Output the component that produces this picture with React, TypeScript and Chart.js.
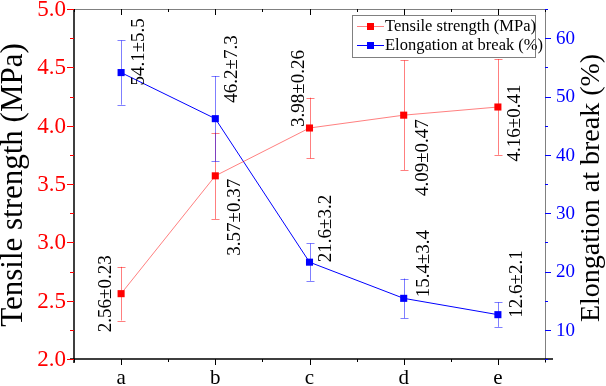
import React, { useEffect, useRef } from "react";
import { Chart, registerables } from "chart.js";

Chart.register(...registerables);

const categories = ["a", "b", "c", "d", "e"];
const tensile = [2.56, 3.57, 3.98, 4.09, 4.16];
const tensileErr = [0.23, 0.37, 0.26, 0.47, 0.41];
const elongation = [54.1, 46.2, 21.6, 15.4, 12.6];
const elongationErr = [5.5, 7.3, 3.2, 3.4, 2.1];
const leftTickValues = [2.0, 2.5, 3.0, 3.5, 4.0, 4.5, 5.0];
const rightTickValues = [10, 20, 30, 40, 50, 60];

const FONT = "'Liberation Serif', 'Times New Roman', serif";

// label placement (style only): offsets from the point, and rotated alignment
const redLabelPlace = [
  { dx: -15, dy: 0, align: "center" },
  { dx: 20, dy: 3, align: "right" },
  { dx: -10, dy: -1, align: "left" },
  { dx: 19, dy: 4, align: "right" },
  { dx: 17, dy: 16, align: "center" },
];
const blueLabelPlace = [
  { dx: 18, dy: 13, align: "left" },
  { dx: 17, dy: -16, align: "left" },
  { dx: 17, dy: 0, align: "left" },
  { dx: 20, dy: -1, align: "left" },
  { dx: 19, dy: 3, align: "left" },
];

const decorPlugin = {
  id: "decor",
  beforeDatasetsDraw(chart: any) {
    const ctx = chart.ctx;
    const xs = chart.scales.x;
    const drawErr = (vals: number[], errs: number[], scale: any, color: string) => {
      ctx.save();
      ctx.strokeStyle = color;
      ctx.lineWidth = 1;
      vals.forEach((v, i) => {
        const x = Math.round(xs.getPixelForValue(i + 1)) + 0.5;
        const yt = scale.getPixelForValue(v + errs[i]);
        const yb = scale.getPixelForValue(v - errs[i]);
        ctx.beginPath();
        ctx.moveTo(x, yt);
        ctx.lineTo(x, yb);
        ctx.moveTo(x - 4, Math.round(yt) + 0.5);
        ctx.lineTo(x + 4, Math.round(yt) + 0.5);
        ctx.moveTo(x - 4, Math.round(yb) + 0.5);
        ctx.lineTo(x + 4, Math.round(yb) + 0.5);
        ctx.stroke();
      });
      ctx.restore();
    };
    drawErr(tensile, tensileErr, chart.scales.y, "rgba(255,0,0,0.5)");
    drawErr(elongation, elongationErr, chart.scales.y1, "rgba(0,0,255,0.5)");
  },
  afterDraw(chart: any) {
    const ctx = chart.ctx;
    const { left, right, top, bottom } = chart.chartArea;
    const xs = chart.scales.x;
    const ys = chart.scales.y;
    const y1 = chart.scales.y1;
    ctx.save();

    // frame
    ctx.lineWidth = 1;
    ctx.strokeStyle = "#808080";
    ctx.beginPath();
    ctx.moveTo(left, top + 0.5);
    ctx.lineTo(right, top + 0.5);
    ctx.moveTo(right + 0.5, top);
    ctx.lineTo(right + 0.5, bottom + 4);
    ctx.stroke();

    ctx.strokeStyle = "#000";
    ctx.lineWidth = 1.5;
    ctx.beginPath();
    ctx.moveTo(left, top);
    ctx.lineTo(left, bottom + 4);
    ctx.moveTo(left - 4, bottom);
    ctx.lineTo(right + 8, bottom);
    ctx.stroke();

    // x ticks (bottom outward, top inward)
    ctx.lineWidth = 1;
    ctx.strokeStyle = "#000";
    ctx.beginPath();
    for (let k = 1; k <= 11; k++) {
      const v = 0.5 * k;
      const major = Number.isInteger(v);
      const x = Math.round(xs.getPixelForValue(v)) + 0.5;
      const len = major ? 6 : 3;
      ctx.moveTo(x, bottom);
      ctx.lineTo(x, bottom + len);
      ctx.moveTo(x, top);
      ctx.lineTo(x, top + len);
    }
    ctx.stroke();

    // left ticks
    ctx.strokeStyle = "#ff0000";
    ctx.beginPath();
    for (let k = 0; k <= 12; k++) {
      const v = 2 + 0.25 * k;
      const major = k % 2 === 0;
      const y = Math.round(ys.getPixelForValue(v)) + 0.5;
      ctx.moveTo(left, y);
      ctx.lineTo(left - (major ? 7 : 4), y);
    }
    ctx.stroke();

    // right ticks
    ctx.strokeStyle = "#0000ff";
    ctx.beginPath();
    for (let v = 5; v <= 65; v += 5) {
      const major = v % 10 === 0;
      const y = Math.round(y1.getPixelForValue(v)) + 0.5;
      ctx.moveTo(right, y);
      ctx.lineTo(right + (major ? 6 : 3), y);
    }
    ctx.stroke();

    // tick labels
    ctx.fillStyle = "#ff0000";
    ctx.font = `23px ${FONT}`;
    ctx.textAlign = "right";
    ctx.textBaseline = "middle";
    leftTickValues.forEach((v) => {
      ctx.fillText(v.toFixed(1), 66, ys.getPixelForValue(v) + 1);
    });
    ctx.fillStyle = "#0000ff";
    ctx.font = `19px ${FONT}`;
    ctx.textAlign = "left";
    rightTickValues.forEach((v) => {
      ctx.fillText(String(v), 556, y1.getPixelForValue(v) + 1);
    });
    ctx.fillStyle = "#000";
    ctx.font = `21px ${FONT}`;
    ctx.textAlign = "center";
    ctx.textBaseline = "alphabetic";
    categories.forEach((c, i) => {
      ctx.fillText(c, xs.getPixelForValue(i + 1), 384);
    });

    // axis titles
    ctx.save();
    ctx.translate(14, (top + bottom) / 2 + 1);
    ctx.rotate(-Math.PI / 2);
    ctx.font = `31px ${FONT}`;
    ctx.textAlign = "center";
    ctx.textBaseline = "middle";
    ctx.fillStyle = "#000";
    ctx.fillText("Tensile strength (MPa)", 0, 0);
    ctx.restore();

    ctx.save();
    ctx.translate(592, (top + bottom) / 2 + 4);
    ctx.rotate(-Math.PI / 2);
    ctx.font = `28px ${FONT}`;
    ctx.textAlign = "center";
    ctx.textBaseline = "middle";
    ctx.fillStyle = "#000";
    ctx.fillText("Elongation at break (%)", 0, 0);
    ctx.restore();

    // data labels
    const drawLabels = (vals: number[], errs: number[], scale: any, place: any[], digits: number) => {
      vals.forEach((v, i) => {
        const p = place[i];
        const x = xs.getPixelForValue(i + 1) + p.dx;
        const y = scale.getPixelForValue(v) + p.dy;
        ctx.save();
        ctx.translate(x, y);
        ctx.rotate(-Math.PI / 2);
        ctx.font = `19px ${FONT}`;
        ctx.fillStyle = "#000";
        ctx.textAlign = p.align;
        ctx.textBaseline = "middle";
        ctx.fillText(`${v.toFixed(digits)}\u00b1${errs[i].toFixed(digits)}`, 0, 0);
        ctx.restore();
      });
    };
    drawLabels(tensile, tensileErr, ys, redLabelPlace, 2);
    drawLabels(elongation, elongationErr, y1, blueLabelPlace, 1);

    // legend
    ctx.fillStyle = "#fff";
    ctx.fillRect(352, 15, 183, 42);
    ctx.strokeStyle = "#808080";
    ctx.lineWidth = 1;
    ctx.strokeRect(352.5, 15.5, 183, 42);
    const rows = [
      { label: "Tensile strength (MPa)", line: "rgba(255,0,0,0.5)", fill: "#ff0000", y: 26 },
      { label: "Elongation at break (%)", line: "#0000ff", fill: "#0000ff", y: 45 },
    ];
    ctx.font = `16.5px ${FONT}`;
    ctx.textAlign = "left";
    ctx.textBaseline = "middle";
    rows.forEach((r) => {
      ctx.strokeStyle = r.line;
      ctx.beginPath();
      ctx.moveTo(357, r.y + 0.5);
      ctx.lineTo(384, r.y + 0.5);
      ctx.stroke();
      ctx.fillStyle = r.fill;
      ctx.fillRect(367, r.y - 3, 7, 7);
      ctx.fillStyle = "#000";
      ctx.fillText(r.label, 385, r.y + 1);
    });

    ctx.restore();
  },
};

export default function App() {
  const ref = useRef<HTMLCanvasElement | null>(null);
  useEffect(() => {
    if (!ref.current) return;
    Chart.defaults.font.family = FONT;
    const chart = new Chart(ref.current, {
      type: "line",
      data: {
        datasets: [
          {
            label: "Tensile strength (MPa)",
            data: tensile.map((v, i) => ({ x: i + 1, y: v })),
            yAxisID: "y",
            borderColor: "rgba(255,0,0,0.5)",
            borderWidth: 1,
            backgroundColor: "#ff0000",
            pointStyle: "rect",
            pointRadius: 5,
            pointBorderWidth: 0,
            pointBackgroundColor: "#ff0000",
            pointBorderColor: "#ff0000",
          },
          {
            label: "Elongation at break (%)",
            data: elongation.map((v, i) => ({ x: i + 1, y: v })),
            yAxisID: "y1",
            borderColor: "#0000ff",
            borderWidth: 1,
            backgroundColor: "#0000ff",
            pointStyle: "rect",
            pointRadius: 5,
            pointBorderWidth: 0,
            pointBackgroundColor: "#0000ff",
            pointBorderColor: "#0000ff",
          },
        ],
      },
      options: {
        responsive: false,
        animation: false,
        devicePixelRatio: 1,
        layout: { padding: { top: 9, left: 0, right: 0, bottom: 0 } },
        plugins: { legend: { display: false }, tooltip: { enabled: false } },
        scales: {
          x: {
            type: "linear",
            min: 0.5,
            max: 5.5,
            grid: { display: false, drawTicks: false },
            border: { display: false },
            ticks: { display: false },
            afterFit: (s: any) => {
              s.height = 27;
            },
          },
          y: {
            type: "linear",
            position: "left",
            min: 2,
            max: 5,
            grid: { display: false, drawTicks: false },
            border: { display: false },
            ticks: { display: false },
            afterFit: (s: any) => {
              s.width = 74;
            },
          },
          y1: {
            type: "linear",
            position: "right",
            min: 5,
            max: 65,
            grid: { display: false, drawTicks: false },
            border: { display: false },
            ticks: { display: false },
            afterFit: (s: any) => {
              s.width = 61;
            },
          },
        },
      },
      plugins: [decorPlugin],
    } as any);
    return () => chart.destroy();
  }, []);
  return (
    <div style={{ position: "absolute", left: 0, top: 0, width: 606, height: 386 }}>
      <canvas ref={ref} width={606} height={386} style={{ display: "block" }} />
    </div>
  );
}
